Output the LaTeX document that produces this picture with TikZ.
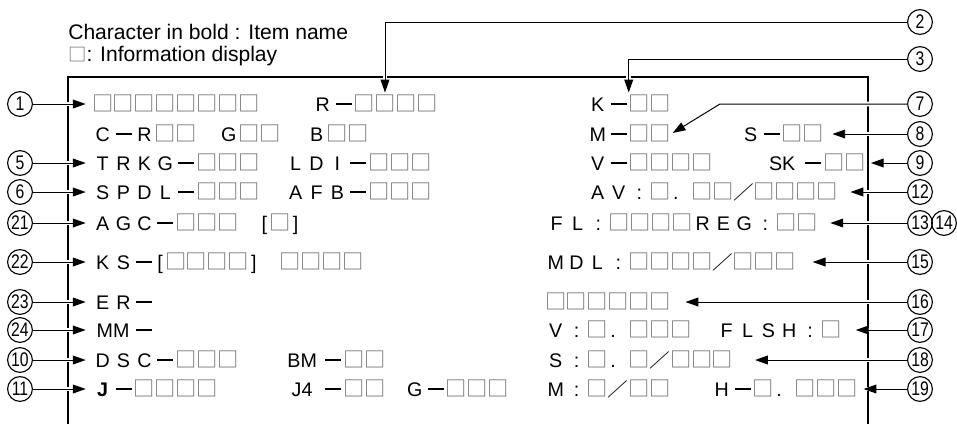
\documentclass[tikz,border=0pt]{standalone}
\usepackage{fontspec}
\usepackage{graphicx}
\setmainfont{Liberation Sans}
\newfontfamily\cjk{Noto Sans CJK JP}
\usetikzlibrary{arrows.meta}
\definecolor{dsGray}{RGB}{105,105,105}

% one character cell of the display
\newlength\dsw
\setlength\dsw{0.52125cm}
\newcommand\dsc[1]{\makebox[\dsw][c]{#1}}
\newcommand\dshalf[1]{\makebox[0.5\dsw][c]{#1}}
\newcommand\dspair[1]{\makebox[2\dsw][c]{#1}}
\newcommand\dsgap{\hspace*{\dsw}}
\newcommand\dsbox{\dsc{\textcolor{dsGray}{\scalebox{1.08}{\cjk □}}}}
\newcommand\dsmin{\dsc{\rule[0.15cm]{0.4cm}{1.5pt}}}
\newcommand\dscolon{\dsc{:}}
\newcommand\dsdot{\makebox[\dsw][l]{\hspace{0.06cm}.}}
\newcommand\dsslash{\dsc{\scalebox{1.05}[0.95]{\cjk ／}}}

\tikzset{
  disp/.style={anchor=west, inner sep=0pt, text height=0.35cm, text depth=0pt,
    font=\fontsize{14}{16}\selectfont},
  callout/.style={circle, draw, line width=0.8pt, minimum size=0.62cm, inner sep=0pt,
    font=\fontsize{14}{15}\selectfont},
  arr/.style={line width=0.7pt, -{Triangle[length=0.32cm,width=0.22cm]},
    preaction={draw=white, line width=3.5pt, -}},
  panel/.style={line width=2.1pt},
  note/.style={anchor=base west, inner sep=0pt, font=\fontsize{15}{18}\selectfont}
}

\begin{document}
\begin{tikzpicture}[x=0.025cm, y=-0.025cm]
    \useasboundingbox (0,0) rectangle (957,424);

    % legend
    \node[note] (hd1) at (68,39.5) {Character in bold : Item name};
    \node[note] (hd2) at (68,61.5) {\textcolor{dsGray}{\fontsize{13}{13}\selectfont\cjk □}: Information display};

    % screen frame
    \draw[panel] (68,424) -- (68,77) -- (868,77) -- (868,424);

    % left column of the screen
    \node[disp] (r1a) at (92,104) {\dsbox\dsbox\dsbox\dsbox\dsbox\dsbox\dsbox\dsbox};
    \node[disp] (r1b) at (312,104) {\dsc R\dsmin\dsbox\dsbox\dsbox\dsbox};
    \node[disp] (r2a) at (92,134) {\dsc C\dsmin\dsc R\dsbox\dsbox};
    \node[disp] (r2b) at (218,134) {\dsc G\dsbox\dsbox};
    \node[disp] (r2c) at (306,134) {\dsc B\dsbox\dsbox};
    \node[disp] (r3a) at (92,163) {\dsc T\dsc R\dsc K\dsc G\dsmin\dsbox\dsbox\dsbox};
    \node[disp] (r3b) at (285,163) {\dsc L\dsc D\dsc I\dsmin\dsbox\dsbox\dsbox};
    \node[disp] (r4a) at (92,192) {\dsc S\dsc P\dsc D\dsc L\dsmin\dsbox\dsbox\dsbox};
    \node[disp] (r4b) at (285,192) {\dsc A\dsc F\dsc B\dsmin\dsbox\dsbox\dsbox};
    \node[disp] (r5a) at (92,223) {\dsc A\dsc G\dsc C\dsmin\dsbox\dsbox\dsbox\dsgap\dshalf[\dsbox\dshalf]};
    \node[disp] (r6a) at (92,262) {\dsc K\dsc S\dsmin\dshalf[\dsbox\dsbox\dsbox\dsbox\dshalf]\dsgap\dsbox\dsbox\dsbox\dsbox};
    \node[disp] (r7a) at (92,302) {\dsc E\dsc R\dsmin};
    \node[disp] (r8a) at (92,330) {\dspair{MM}\dsmin};
    \node[disp] (r9a) at (92,360) {\dsc D\dsc S\dsc C\dsmin\dsbox\dsbox\dsbox};
    \node[disp] (r9b) at (281,360) {\dspair{BM}\dsmin\dsbox\dsbox};
    \node[disp] (r10a) at (92,389) {\dsc{\textbf{J}}\dsmin\dsbox\dsbox\dsbox\dsbox};
    \node[disp] (r10b) at (281,389) {\dspair{J4}\dsmin\dsbox\dsbox};
    \node[disp] (r10c) at (404,389) {\dsc G\dsmin\dsbox\dsbox\dsbox};

    % right column of the screen
    \node[disp] (k1) at (587,104) {\dsc K\dsmin\dsbox\dsbox};
    \node[disp] (m2) at (587,134) {\dsc M\dsmin\dsbox\dsbox};
    \node[disp] (s2) at (740,134) {\dsc S\dsmin\dsbox\dsbox};
    \node[disp] (v3) at (587,163) {\dsc V\dsmin\dsbox\dsbox\dsbox\dsbox};
    \node[disp] (sk3) at (761,163) {\dspair{SK}\dsmin\dsbox\dsbox};
    \node[disp] (av4) at (587,192) {\dsc A\dsc V\dscolon\dsbox\dsdot\dsbox\dsbox\dsslash\dsbox\dsbox\dsbox\dsbox};
    \node[disp] (fl5) at (546,223) {\dsc F\dsc L\dscolon\dsbox\dsbox\dsbox\dsbox\dsc R\dsc E\dsc G\dscolon\dsbox\dsbox};
    \node[disp] (mdl6) at (545,262) {\dsc M\dsc D\dsc L\dscolon\dsbox\dsbox\dsbox\dsbox\dsslash\dsbox\dsbox\dsbox};
    \node[disp] (b7) at (545,302) {\dsbox\dsbox\dsbox\dsbox\dsbox\dsbox};
    \node[disp] (v8) at (545,330) {\dsc V\dscolon\dsbox\dsdot\dsbox\dsbox\dsbox};
    \node[disp] (fl8) at (716,330) {\dsc F\dsc L\dsc S\dsc H\dscolon\dsbox};
    \node[disp] (s9) at (545,360) {\dsc S\dscolon\dsbox\dsdot\dsbox\dsslash\dsbox\dsbox\dsbox};
    \node[disp] (m10) at (545,389) {\dsc M\dscolon\dsbox\dsslash\dsbox\dsbox};
    \node[disp] (h10) at (711,389) {\dsc H\dsmin\dsbox\dsdot\dsbox\dsbox\dsbox};

    % callouts on the left
    \foreach \n/\y/\r in {1/104/r1a, 5/163/r3a, 6/192/r4a, 21/223/r5a, 22/262/r6a,
                          23/302/r7a, 24/330/r8a, 10/360/r9a, 11/389/r10a} {
        \node[callout] (c\n) at (20,\y) {\scalebox{0.8}[1]{\n}};
        \draw[arr, shorten >=4.5pt] (c\n) -- (\r.west);
    }

    % callouts on the right
    \node[callout] (c2) at (920,22) {\scalebox{0.8}[1]{2}};
    \node[callout] (c3) at (920,59) {\scalebox{0.8}[1]{3}};
    \node[callout] (c7) at (920,104) {\scalebox{0.8}[1]{7}};
    \node[callout] (c14) at (944,223) {\scalebox{0.8}[1]{14}};
    \draw[arr, shorten >=3pt] (c2) -| ([xshift=3.5\dsw]r1b.north west);
    \draw[arr, shorten >=3pt] (c3) -| ([xshift=2\dsw]k1.north west);
    \draw[arr, shorten >=1.4pt] (c7) -- ++(-200,0) -- (m2.east);
    \foreach \n/\y/\r/\g in {8/134/s2/6pt, 9/163/sk3/3.6pt, 12/192/av4/9pt, 13/223/fl5/9pt,
                             15/262/mdl6/12pt, 16/302/b7/10.5pt, 17/330/fl8/10pt,
                             18/360/s9/15.5pt, 19/389/h10/4.3pt} {
        \node[callout] (c\n) at (920,\y) {\scalebox{0.8}[1]{\n}};
        \draw[arr, shorten >=\g] (c\n) -- (\r.east);
    }
\end{tikzpicture}
\end{document}
